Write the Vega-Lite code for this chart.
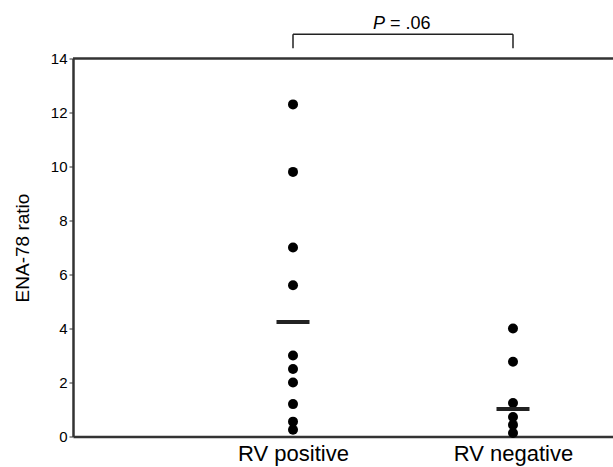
{
  "$schema": "https://vega.github.io/schema/vega-lite/v6.json",
  "width": 540,
  "height": 378,
  "autosize": {"type": "none"},
  "padding": {"left": 73, "top": 58.5, "right": 0, "bottom": 30.5},
  "background": "white",
  "config": {
    "view": {"stroke": null},
    "font": "Liberation Sans"
  },
  "datasets": {
    "obs": [
      {"group": "RV positive", "value": 12.3},
      {"group": "RV positive", "value": 9.8},
      {"group": "RV positive", "value": 7.0},
      {"group": "RV positive", "value": 5.6},
      {"group": "RV positive", "value": 3.0},
      {"group": "RV positive", "value": 2.5},
      {"group": "RV positive", "value": 2.0},
      {"group": "RV positive", "value": 1.2},
      {"group": "RV positive", "value": 0.55},
      {"group": "RV positive", "value": 0.25},
      {"group": "RV negative", "value": 4.0},
      {"group": "RV negative", "value": 2.77},
      {"group": "RV negative", "value": 1.24},
      {"group": "RV negative", "value": 0.72},
      {"group": "RV negative", "value": 0.43},
      {"group": "RV negative", "value": 0.13}
    ],
    "means": [
      {"group": "RV positive", "mean": 4.24},
      {"group": "RV negative", "mean": 1.02}
    ],
    "bracket": [
      {"from": "RV positive", "to": "RV negative", "top": 14.9, "bottom": 14.38, "label": "= .06"}
    ]
  },
  "layer": [
    {
      "data": {"name": "obs"},
      "mark": {"type": "point", "filled": true, "color": "black", "size": 100, "opacity": 1},
      "encoding": {
        "x": {
          "field": "group", "type": "nominal",
          "scale": {"type": "point", "domain": ["RV positive", "RV negative"], "padding": 0.7273, "align": 0.6875},
          "axis": {
            "title": null, "ticks": false, "labelAngle": 0,
            "labelFontSize": 22, "labelColor": "black", "labelPadding": 7,
            "domainColor": "#333", "domainWidth": 2.5
          }
        },
        "y": {
          "field": "value", "type": "quantitative",
          "scale": {"domain": [0, 14], "nice": false},
          "axis": {
            "title": "ENA-78 ratio", "titleFontSize": 19, "titleFontWeight": "normal", "titleColor": "black",
            "titlePadding": 18,
            "values": [0, 2, 4, 6, 8, 10, 12, 14], "grid": false,
            "labelFontSize": 15, "labelColor": "black", "labelPadding": 2,
            "tickSize": 4, "tickColor": "#333", "tickWidth": 1,
            "domainColor": "#333", "domainWidth": 2.5
          }
        }
      }
    },
    {
      "data": {"name": "means"},
      "mark": {"type": "tick", "color": "#222", "thickness": 4, "size": 33, "orient": "horizontal", "opacity": 1},
      "encoding": {
        "x": {"field": "group", "type": "nominal"},
        "y": {"field": "mean", "type": "quantitative"}
      }
    },
    {
      "data": {"values": [{"v": 14}]},
      "mark": {"type": "rule", "color": "#333", "strokeWidth": 2.5},
      "encoding": {"y": {"field": "v", "type": "quantitative"}}
    },
    {
      "data": {"name": "bracket"},
      "layer": [
        {
          "mark": {"type": "rule", "color": "#222", "strokeWidth": 1.5, "clip": false},
          "encoding": {
            "x": {"field": "from", "type": "nominal"},
            "x2": {"field": "to"},
            "y": {"field": "top", "type": "quantitative"}
          }
        },
        {
          "mark": {"type": "rule", "color": "#222", "strokeWidth": 1.5, "clip": false},
          "encoding": {
            "x": {"field": "from", "type": "nominal"},
            "y": {"field": "top", "type": "quantitative"},
            "y2": {"field": "bottom"}
          }
        },
        {
          "mark": {"type": "rule", "color": "#222", "strokeWidth": 1.5, "clip": false},
          "encoding": {
            "x": {"field": "to", "type": "nominal"},
            "y": {"field": "top", "type": "quantitative"},
            "y2": {"field": "bottom"}
          }
        },
        {
          "mark": {"type": "text", "text": "P", "fontStyle": "italic", "fontSize": 18, "align": "right", "baseline": "alphabetic", "dx": -1, "dy": -5, "color": "black"},
          "encoding": {
            "x": {"value": 313},
            "y": {"field": "top", "type": "quantitative"}
          }
        },
        {
          "mark": {"type": "text", "fontSize": 18, "align": "left", "baseline": "alphabetic", "dx": 4, "dy": -5, "color": "black"},
          "encoding": {
            "x": {"value": 313},
            "y": {"field": "top", "type": "quantitative"},
            "text": {"field": "label"}
          }
        }
      ]
    }
  ]
}
